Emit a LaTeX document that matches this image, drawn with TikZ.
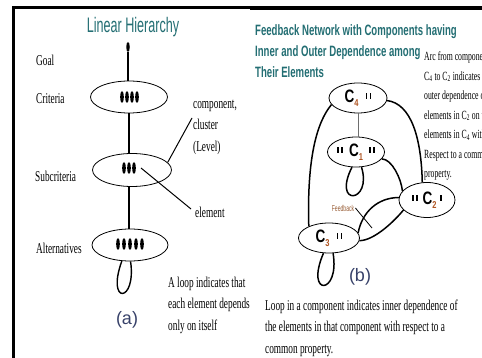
\documentclass[tikz,border=0pt]{standalone}
\usepackage{fontspec}
\setmainfont{Liberation Serif}
\newfontfamily\narrowserif{Liberation Serif}[FakeStretch=0.62]
\newfontfamily\narrowsans{Liberation Sans}[FakeStretch=0.6]
\newfontfamily\titlesans{Liberation Sans}[FakeStretch=0.64]
\newfontfamily\condsans{Liberation Sans}[FakeStretch=0.75]
\newfontfamily\plainsans{Liberation Sans}
\usetikzlibrary{shapes.geometric}

\definecolor{titleteal}{RGB}{35,110,115}
\definecolor{capslate}{RGB}{55,65,105}
\definecolor{subbrown}{RGB}{175,85,35}
\definecolor{fbbrown}{RGB}{150,90,50}
\definecolor{linkgray}{RGB}{110,110,110}

\newcommand{\elemdots}{\rule[3.5pt]{1.7pt}{6pt}\hspace{2.3pt}\rule[3.5pt]{1.7pt}{6pt}}
\newcommand{\elemdot}{\rule[3.5pt]{1.7pt}{6pt}}
\newcommand{\compname}[1]{C\raisebox{-4pt}{\fontsize{10}{10}\selectfont\textcolor{subbrown}{#1}}}

\begin{document}
\begin{tikzpicture}[
x=1pt,y=-1pt,
cluster/.style={draw,ellipse,inner sep=0pt,line width=0.8pt},
compnode/.style={draw,ellipse,inner sep=0pt,line width=0.8pt,
  font=\condsans\bfseries\fontsize{18}{18}\selectfont},
lvl/.style={inner sep=0pt,font=\narrowserif\fontsize{15}{15}\selectfont},
note/.style={inner sep=0pt,align=left,font=\narrowserif\fontsize{15}{21.5}\selectfont},
smallnote/.style={inner sep=0pt,align=left,font=\narrowserif\fontsize{12.5}{19.5}\selectfont},
title/.style={inner sep=0pt,text=titleteal,font=\narrowsans\fontsize{21}{21}\selectfont},
subtitle/.style={inner sep=0pt,align=left,text=titleteal,
  font=\titlesans\bfseries\fontsize{15}{21}\selectfont},
caption/.style={inner sep=0pt,text=capslate,font=\plainsans\fontsize{18}{18}\selectfont},
arm/.style={line width=1.4pt},
arc/.style={line width=1.5pt},
pointer/.style={line width=1pt}
]

%%%%%%%%%%%%%%%%%%%%%%%%%%%%%%%%%%%%%%%%%%%%%%%%%%%%%%%%%%
% OUTER FRAME
%%%%%%%%%%%%%%%%%%%%%%%%%%%%%%%%%%%%%%%%%%%%%%%%%%%%%%%%%%

\node[
minimum width=482pt,
minimum height=358pt,
inner sep=0pt,
outer sep=0pt
](frame) at (241,179) {};

\useasboundingbox (0,0) rectangle (482,358);
\clip (0,0) rectangle (482,358);

\fill[black] (11.5,6.5) rectangle (14.5,358);
\fill[black] (11.5,6.5) rectangle (252,9.5);
\fill[black] (250,6.5) rectangle (482,10.5);

%%%%%%%%%%%%%%%%%%%%%%%%%%%%%%%%%%%%%%%%%%%%%%%%%%%%%%%%%%
% LINEAR HIERARCHY (a)
%%%%%%%%%%%%%%%%%%%%%%%%%%%%%%%%%%%%%%%%%%%%%%%%%%%%%%%%%%

\node[title](lintitle)
at ([xshift=133pt,yshift=-27pt]frame.north west)
{Linear Hierarchy};

\node[
ellipse,
fill=black,
inner sep=0pt,
minimum width=3.5pt,
minimum height=10pt
](goal)
at ([xshift=128pt,yshift=-47pt]frame.north west) {};

\node[cluster,minimum width=77pt,minimum height=32pt](crit)
at ([xshift=129pt,yshift=-97pt]frame.north west) {};

\node[cluster,minimum width=79pt,minimum height=33pt](sub)
at ([xshift=132pt,yshift=-170pt]frame.north west) {};

\node[cluster,minimum width=76pt,minimum height=32pt](alt)
at ([xshift=130pt,yshift=-245pt]frame.north west) {};

% elements
\foreach \dx in {-7,-2,3,8}
  \fill ([xshift=\dx pt]crit.center) ellipse (1.8pt and 6pt);
\foreach \dx in {-8,-3,2}
  \fill ([xshift=\dx pt,yshift=2pt]sub.center) ellipse (1.8pt and 6pt);
\foreach \dx in {-12,-6,0,6,12}
  \fill ([xshift=\dx pt,yshift=1pt]alt.center) ellipse (1.8pt and 6pt);

% level names
\node[lvl,anchor=west](goallbl)
at ([xshift=36pt,yshift=-60pt]frame.north west) {Goal};
\node[lvl,anchor=west](critlbl)
at ([xshift=36pt,yshift=-99pt]frame.north west) {Criteria};
\node[lvl,anchor=west](sublbl)
at ([xshift=35pt,yshift=-176pt]frame.north west) {Subcriteria};
\node[lvl,anchor=west](altlbl)
at ([xshift=36pt,yshift=-248pt]frame.north west) {Alternatives};

% hierarchy links
\draw[arm] (goal.south) -- (goal.south |- crit.north);
\draw[arm] (crit.south) -- (crit.south |- sub.north);
\draw[arm] ([xshift=-3pt]sub.south) -- ([xshift=-3pt]sub.south |- alt.north);
\draw[arm] (alt.-117) .. controls +(-16,44) and +(6,42) .. (alt.-88);

% annotations
\node[note,anchor=west](complbl)
at ([xshift=193pt,yshift=-127pt]frame.north west)
{component,\\cluster\\(Level)};
\draw[pointer] ([xshift=-1pt,yshift=9pt]complbl.west) -- (sub.12);

\node[lvl,anchor=west](elemlbl)
at ([xshift=195pt,yshift=-212pt]frame.north west) {element};
\draw[pointer] ([xshift=-4pt,yshift=3pt]elemlbl.west) -- ([xshift=9pt,yshift=2pt]sub.center);

\node[note,anchor=west](looplbl)
at ([xshift=168pt,yshift=-305pt]frame.north west)
{A loop indicates that\\each element depends\\only on itself};

\node[caption](capa)
at ([xshift=127pt,yshift=-320pt]frame.north west) {(a)};

%%%%%%%%%%%%%%%%%%%%%%%%%%%%%%%%%%%%%%%%%%%%%%%%%%%%%%%%%%
% FEEDBACK NETWORK (b)
%%%%%%%%%%%%%%%%%%%%%%%%%%%%%%%%%%%%%%%%%%%%%%%%%%%%%%%%%%

\node[subtitle,anchor=west](fbtitle)
at ([xshift=255pt,yshift=-51pt]frame.north west)
{Feedback Network with Components having\\Inner and Outer Dependence among\\Their Elements};

\node[compnode,minimum width=58pt,minimum height=30pt](c4)
at ([xshift=358pt,yshift=-98pt]frame.north west)
{\compname{4}\hspace{7pt}\elemdots};

\node[compnode,minimum width=57pt,minimum height=30pt](c1)
at ([xshift=356pt,yshift=-152pt]frame.north west)
{\elemdots\hspace{6pt}\compname{1}\hspace{6pt}\elemdots};

\node[compnode,minimum width=56pt,minimum height=35pt](c2)
at ([xshift=427pt,yshift=-200pt]frame.north west)
{\elemdots\hspace{5pt}\compname{2}\hspace{4pt}\elemdot};

\node[compnode,minimum width=61pt,minimum height=30pt](c3)
at ([xshift=329pt,yshift=-238pt]frame.north west)
{\compname{3}\hspace{7pt}\elemdots};

% outer dependence
\draw[line width=1pt,linkgray] (c4.south) -- (c4.south |- c1.north);
\draw[arc] (c4.194) .. controls +(-15,18) and +(-2,-67) .. (c3.150);
\draw[arc] (c4.-5) .. controls +(24,3) and +(-1,-45) .. (c2.105);
\draw[arc] (c1.-15) .. controls +(10,0) and +(-1,-12) .. (c2.160);

% feedback between C3 and C2
\draw[arc] (c3.10) .. controls +(4,-21) and +(-21,0) .. (c2.175);
\draw[arc] (c3.-5) .. controls +(15,0) and +(-8,10) .. (c2.203);

% inner dependence
\draw[arc] (c1.-105) .. controls +(-20,40) and +(11,36) .. (c1.-70);
\draw[arc] (c3.-110) .. controls +(-19,44) and +(7,42) .. (c3.-75);

\node[
inner sep=0pt,
text=fbbrown,
font=\narrowsans\fontsize{8.5}{8.5}\selectfont
](fblbl)
at ([xshift=343pt,yshift=-208pt]frame.north west) {Feedback};
\coordinate (fbtip) at ([xshift=372pt,yshift=-228pt]frame.north west);
\draw[line width=0.8pt] ([xshift=1pt]fblbl.east) -- (fbtip);

\node[caption](capb)
at ([xshift=360pt,yshift=-277pt]frame.north west) {(b)};

% notes
\node[smallnote,anchor=west](arcnote)
at ([xshift=424pt,yshift=-116pt]frame.north west)
{Arc from component\\C\textsubscript{4} to C\textsubscript{2} indicates the\\outer dependence of the\\elements in C\textsubscript{2} on the\\elements in C\textsubscript{4} with\\Respect to a common\\property.};

\node[note,anchor=west](innernote)
at ([xshift=265pt,yshift=-328pt]frame.north west)
{Loop in a component indicates inner dependence of\\the elements in that component with respect to a\\common property.};

\end{tikzpicture}
\end{document}
